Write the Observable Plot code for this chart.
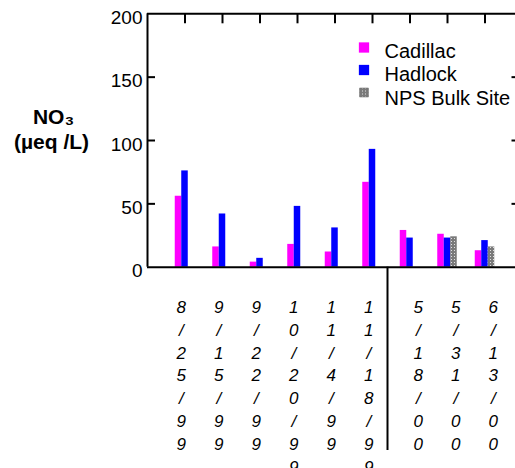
<!DOCTYPE html>
<html><head><meta charset="utf-8">
<script src="https://cdn.jsdelivr.net/npm/d3@7"></script>
<script src="https://cdn.jsdelivr.net/npm/@observablehq/plot@0.6"></script>
<style>body{margin:0;background:#fff;} svg{display:block}</style>
</head><body><div id="chart"></div>
<script>
// ---- data ----
const dates = ["8/25/99","9/15/99","9/22/99","10/20/99","11/4/99","11/18/99","5/18/00","5/31/00","6/13/00"];
const years = ["1999","1999","1999","1999","1999","1999","2000","2000","2000"];
const seriesNames = ["Cadillac","Hadlock","NPS Bulk Site"];
const cadillac = [56, 16, 4, 18, 12, 67, 29, 26, 13];
const hadlock  = [76, 42, 7, 48, 31, 93, 23, 23, 21];
const npsBulk  = [null, null, null, null, null, null, null, 24, 16];
const yTicks = [0, 50, 100, 150, 200];
const seriesColors = ["#ff00ff", "#0000ff", "url(#npsPattern)"];

// ---- derived tables ----
const slot = 0.1733;           // width of one series slot, in category units
const rows = [];
[cadillac, hadlock, npsBulk].forEach((vals, s) => vals.forEach((v, i) => {
  if (v == null) return;
  const c = i + 1;
  rows.push({date: dates[i], series: seriesNames[s], value: v,
             x1: c + (s - 1.5) * slot, x2: c + (s - 0.5) * slot});
}));
const cats = dates.map((d, i) => ({date: d, pos: i + 1, year: years[i], text: d.split("").join("\n")}));
const groupBreak = 6.4;

const W = 515, H = 468, ML = 147, MT = 13.3, MB = 201.3;
const frameW = W - ML, frameH = H - MT - MB;
const font = "Liberation Sans, Arial, sans-serif";

const legendMarks = seriesNames.flatMap((name, k) => [
  Plot.dot([name], {frameAnchor: "top-left", dx: 216.5, dy: 33.7 + 22.5 * k, symbol: "square",
    r: k === 2 ? 5 : 5.8, fill: seriesColors[k], stroke: k === 2 ? "#666" : "none", strokeWidth: 0.6}),
  Plot.text([name], {frameAnchor: "top-left", dx: 237, dy: 37.3 + 23.5 * k, text: d => d,
    textAnchor: "start", lineAnchor: "middle", fontSize: 20, fontFamily: font, fill: "black"})
]);

const chart = Plot.plot({
  width: W, height: H,
  marginLeft: ML, marginRight: 0, marginTop: MT, marginBottom: MB,
  style: {fontFamily: font, background: "#fff", color: "black", overflow: "hidden"},
  x: {domain: [0, 10], range: [ML, ML + 375], axis: null},
  y: {domain: [0, 200], axis: null},
  color: {domain: seriesNames, range: seriesColors},
  marks: [
    Plot.rect(rows, {x1: "x1", x2: "x2", y1: 0, y2: "value", fill: "series"}),
    // axis frame
    Plot.ruleY([0, 200], {x1: 0, x2: 10, stroke: "black", strokeWidth: 2}),
    Plot.ruleX([0, 10], {y1: 0, y2: 200, stroke: "black", strokeWidth: 2}),
    // inward ticks
    Plot.ruleY(yTicks.slice(1, -1), {insetRight: frameW - 8, stroke: "black", strokeWidth: 2}),
    Plot.ruleY(yTicks.slice(1, -1), {insetLeft: frameW - 3.5, stroke: "black", strokeWidth: 2}),
    Plot.ruleX(cats, {x: "pos", insetBottom: frameH - 10, stroke: "black", strokeWidth: 2}),
    // year separator
    Plot.ruleX([groupBreak], {insetTop: frameH, insetBottom: -183.3, stroke: "black", strokeWidth: 2}),
    // y tick labels
    Plot.axisY({ticks: yTicks, tickSize: 0, tickPadding: 5, fontSize: 19, dy: 4, label: null, fontFamily: font}),
    // category labels (one character per line)
    Plot.text(cats.filter(d => d.year === "1999"), {x: "pos", text: "text", frameAnchor: "bottom", lineAnchor: "top",
      dy: 29.3, dx: -3.7, lineHeight: 1.347, fontSize: 17, fontStyle: "italic", fontFamily: font, fill: "black"}),
    Plot.text(cats.filter(d => d.year === "2000"), {x: "pos", text: "text", frameAnchor: "bottom", lineAnchor: "top",
      dy: 29.3, dx: 8.3, lineHeight: 1.347, fontSize: 17, fontStyle: "italic", fontFamily: font, fill: "black"}),
    // y title
    Plot.text(["NO₃"], {frameAnchor: "top-left", dx: -94, dy: 103.3, text: d => d, textAnchor: "middle", lineAnchor: "middle",
      fontSize: 21, fontWeight: "bold", fontFamily: font, fill: "black"}),
    Plot.text(["(µeq /L)"], {frameAnchor: "top-left", dx: -96, dy: 128, text: d => d, textAnchor: "middle", lineAnchor: "middle",
      fontSize: 21, fontWeight: "bold", fontFamily: font, fill: "black"}),
    ...legendMarks
  ]
});

const defs = d3.select(chart).insert("defs", ":first-child");
const pat = defs.append("pattern").attr("id", "npsPattern").attr("patternUnits", "userSpaceOnUse")
  .attr("width", 3).attr("height", 3);
pat.append("rect").attr("width", 3).attr("height", 3).attr("fill", "#7a7a7a");
pat.append("rect").attr("x", 1).attr("y", 1).attr("width", 1).attr("height", 1).attr("fill", "#e0e0e0");

document.getElementById("chart").appendChild(chart);
</script>
</body></html>
